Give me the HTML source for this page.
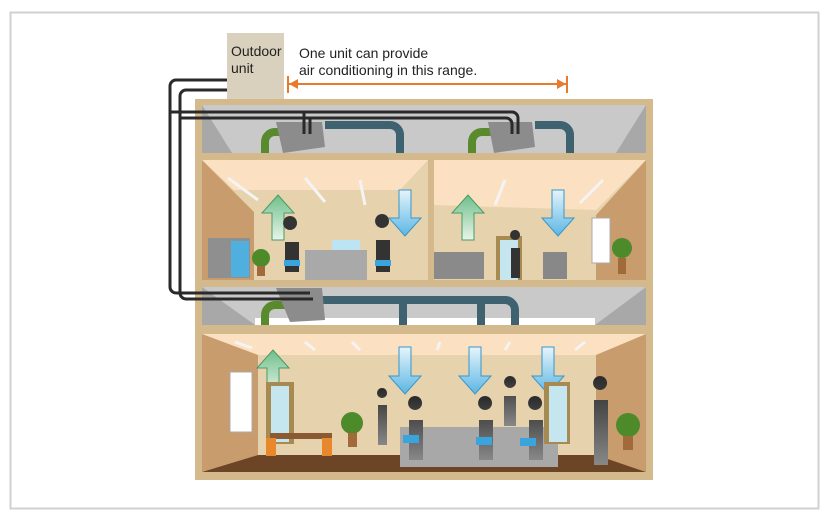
<!DOCTYPE html>
<html><head><meta charset="utf-8"><style>
body{margin:0;background:#fff;width:828px;height:516px;overflow:hidden}
svg{display:block}
text{font-family:"Liberation Sans",sans-serif}
</style></head><body>
<svg width="828" height="516" viewBox="0 0 828 516">
<defs>
<linearGradient id="gu" x1="0" y1="1" x2="0" y2="0"><stop offset="0" stop-color="#e8f4ea"/><stop offset="1" stop-color="#6fbf8a"/></linearGradient>
<linearGradient id="gd" x1="0" y1="0" x2="0" y2="1"><stop offset="0" stop-color="#e6f4fb"/><stop offset="1" stop-color="#5bb6e4"/></linearGradient>
<linearGradient id="person" x1="0" y1="0" x2="0" y2="1"><stop offset="0" stop-color="#2a2a2a"/><stop offset="1" stop-color="#888"/></linearGradient>
</defs>
<rect x="10.5" y="12.5" width="808" height="496" fill="#fff" stroke="#d0d0d0" stroke-width="2"/>
<!-- outdoor unit -->
<rect x="227" y="33" width="57" height="67" fill="#d9d1bd"/>
<text x="231" y="56" font-size="14" fill="#222">Outdoor</text>
<text x="231" y="73" font-size="14" fill="#222">unit</text>
<text x="299" y="58" font-size="14" fill="#222">One unit can provide</text>
<text x="299" y="75" font-size="14" fill="#222">air conditioning in this range.</text>
<line x1="289" y1="84" x2="567" y2="84" stroke="#e87a30" stroke-width="2"/>
<line x1="288" y1="76" x2="288" y2="93" stroke="#e87a30" stroke-width="2"/>
<line x1="567" y1="76" x2="567" y2="93" stroke="#e87a30" stroke-width="2"/>
<polygon points="289,84 298,79 298,89" fill="#e87a30"/>
<polygon points="566,84 557,79 557,89" fill="#e87a30"/>
<!-- building -->
<rect x="195" y="99" width="458" height="381" fill="#d4b98c"/>
<!-- attic -->
<rect x="202" y="105" width="444" height="48" fill="#c9c9c9"/>
<polygon points="202,105 232,153 202,153" fill="#a8a8a8"/>
<polygon points="646,105 616,153 646,153" fill="#a8a8a8"/>
<!-- upper rooms -->
<g>
<rect x="202" y="160" width="226" height="120" fill="#e6d2ad"/>
<polygon points="202,160 428,160 400,190 234,190" fill="#fbe1c1"/>
<polygon points="202,160 254,212 254,280 202,280" fill="#c89c6c"/>
<rect x="434" y="160" width="212" height="120" fill="#e6d2ad"/>
<polygon points="434,160 646,160 596,210 434,205" fill="#fbe1c1"/>
<polygon points="646,160 596,215 596,280 646,280" fill="#c89c6c"/>
</g>
<!-- mid duct space -->
<rect x="202" y="287" width="444" height="38" fill="#c9c9c9"/>
<polygon points="202,287 255,325 202,325" fill="#a8a8a8"/>
<polygon points="646,287 595,325 646,325" fill="#a8a8a8"/>
<rect x="255" y="318" width="340" height="7" fill="#fff"/>
<!-- lower room -->
<rect x="202" y="334" width="444" height="138" fill="#e6d2ad"/>
<polygon points="202,334 646,334 596,355 258,355" fill="#fbe1c1"/>
<polygon points="202,334 258,355 258,455 202,472" fill="#c89c6c"/>
<polygon points="646,334 596,355 596,455 646,472" fill="#c89c6c"/>
<polygon points="258,455 596,455 646,472 202,472" fill="#6b4526"/>
<!-- ducts top -->
<g fill="none" stroke-width="8" stroke-linecap="butt">
<path d="M265 153 V142 a10 10 0 0 1 10 -10 H285" stroke="#5a8a2e"/>
<path d="M325 125 H390 a10 10 0 0 1 10 10 V153" stroke="#3e6270"/>
<path d="M472 153 V142 a10 10 0 0 1 10 -10 H492" stroke="#5a8a2e"/>
<path d="M535 125 H560 a10 10 0 0 1 10 10 V153" stroke="#3e6270"/>
<path d="M265 325 V315 a10 10 0 0 1 10 -10 H285" stroke="#5a8a2e"/>
<path d="M320 300 H505 a10 10 0 0 1 10 10 V325 M403 300 V325 M481 300 V325" stroke="#3e6270"/>
</g>
<polygon points="276,122 322,122 325,147 283,153" fill="#8c8c8c"/>
<polygon points="488,122 532,122 535,147 494,153" fill="#8c8c8c"/>
<polygon points="276,288 322,288 325,320 290,322" fill="#8c8c8c"/>
<!-- pipes -->
<g fill="none" stroke="#2a2a2a" stroke-width="3">
<path d="M227 80 H176 a6 6 0 0 0 -6 6 V287 a6 6 0 0 0 6 6 H310"/>
<path d="M227 90 H186 a6 6 0 0 0 -6 6 V293 a6 6 0 0 0 6 6 H313"/>
<path d="M170 112 H512 a6 6 0 0 1 6 6 V134 M304 112 V134"/>
<path d="M180 118 H506 a6 6 0 0 1 6 6 V134 M310 118 V134"/>
</g>
<!-- ceiling lights -->
<g stroke="#f4f4f4" stroke-width="3">
<line x1="228" y1="178" x2="258" y2="200"/><line x1="305" y1="178" x2="325" y2="202"/><line x1="360" y1="180" x2="365" y2="205"/>
<line x1="505" y1="180" x2="495" y2="205"/><line x1="603" y1="180" x2="580" y2="203"/>
<line x1="235" y1="342" x2="252" y2="348"/><line x1="305" y1="342" x2="315" y2="350"/><line x1="352" y1="342" x2="360" y2="350"/><line x1="440" y1="342" x2="437" y2="350"/><line x1="510" y1="342" x2="505" y2="350"/><line x1="585" y1="342" x2="575" y2="350"/>
</g>
<!-- arrows -->
<g stroke="#4a9a64" stroke-width="1" fill="url(#gu)">
<polygon points="272,240 272,213 262,213 278,195 294,213 284,213 284,240"/>
<polygon points="462,240 462,213 452,213 468,195 484,213 474,213 474,240"/>
<polygon points="267,395 267,368 257,368 273,350 289,368 279,368 279,395"/>
</g>
<g stroke="#3a96c8" stroke-width="1" fill="url(#gd)">
<polygon points="399,190 399,218 389,218 405,236 421,218 411,218 411,190"/>
<polygon points="552,190 552,218 542,218 558,236 574,218 564,218 564,190"/>
<polygon points="399,347 399,376 389,376 405,394 421,376 411,376 411,347"/>
<polygon points="469,347 469,376 459,376 475,394 491,376 481,376 481,347"/>
<polygon points="542,347 542,376 532,376 548,394 564,376 554,376 554,347"/>
</g>
<!-- furniture upper -->
<rect x="208" y="238" width="42" height="40" fill="#8f8f8f"/><rect x="231" y="241" width="18" height="36" fill="#4fb0e0"/>
<circle cx="261" cy="258" r="9" fill="#4d8a2a"/><rect x="257" y="266" width="8" height="10" fill="#a06a3a"/>
<rect x="305" y="250" width="62" height="30" fill="#a9a9a9"/><rect x="332" y="240" width="28" height="10" fill="#bde4f2"/>
<path d="M290 230 a7 7 0 1 1 0.1 0 M285 242 h14 v30 h-14z" fill="#333"/>
<path d="M382 228 a7 7 0 1 1 0.1 0 M376 240 h14 v32 h-14z" fill="#333"/>
<rect x="284" y="260" width="16" height="6" fill="#3aa4dc"/><rect x="375" y="260" width="16" height="6" fill="#3aa4dc"/>
<rect x="434" y="252" width="50" height="27" fill="#8a8a8a"/>
<rect x="496" y="236" width="26" height="44" fill="#a78a52"/><rect x="500" y="240" width="18" height="40" fill="#c6e6ef"/>
<path d="M515 240 a5 5 0 1 1 0.1 0 M511 248 h9 v30 h-9z" fill="#333"/>
<rect x="543" y="252" width="24" height="27" fill="#888"/>
<rect x="592" y="218" width="18" height="45" fill="#fff" stroke="#aaa"/>
<circle cx="622" cy="248" r="10" fill="#4d8a2a"/><rect x="618" y="258" width="8" height="16" fill="#a06a3a"/>
<!-- lower furniture -->
<rect x="230" y="372" width="22" height="60" fill="#fff" stroke="#aaa"/>
<rect x="266" y="382" width="28" height="62" fill="#a78a52"/><rect x="271" y="386" width="18" height="56" fill="#c6e6ef"/>
<rect x="270" y="433" width="62" height="6" fill="#8a5a32"/>
<rect x="266" y="438" width="10" height="18" fill="#e8872c"/><rect x="322" y="438" width="10" height="18" fill="#e8872c"/>
<circle cx="352" cy="423" r="11" fill="#4d8a2a"/><rect x="348" y="433" width="9" height="14" fill="#a06a3a"/>
<path d="M382 398 a5 5 0 1 1 0.1 0 M378 405 h9 v40 h-9z" fill="url(#person)"/>
<rect x="400" y="427" width="158" height="40" fill="#a8a8a8"/>
<path d="M415 410 a7 7 0 1 1 0.1 0 M409 420 h14 v40 h-14z" fill="url(#person)"/>
<path d="M485 410 a7 7 0 1 1 0.1 0 M479 420 h14 v40 h-14z" fill="url(#person)"/>
<path d="M510 388 a6 6 0 1 1 0.1 0 M504 396 h12 v30 h-12z" fill="url(#person)"/>
<path d="M535 410 a7 7 0 1 1 0.1 0 M529 420 h14 v40 h-14z" fill="url(#person)"/>
<rect x="403" y="435" width="16" height="8" fill="#3aa4dc"/><rect x="476" y="437" width="16" height="8" fill="#3aa4dc"/><rect x="520" y="438" width="16" height="8" fill="#3aa4dc"/>
<rect x="544" y="382" width="26" height="62" fill="#a78a52"/><rect x="549" y="386" width="18" height="56" fill="#c6e6ef"/>
<path d="M600 390 a7 7 0 1 1 0.1 0 M594 400 h14 v65 h-14z" fill="url(#person)"/>
<circle cx="628" cy="425" r="12" fill="#4d8a2a"/><rect x="623" y="436" width="10" height="14" fill="#a06a3a"/>
</svg>
</body></html>
